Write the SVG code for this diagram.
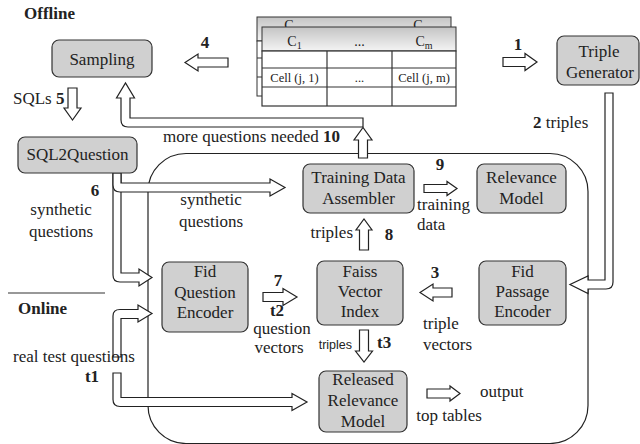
<svg xmlns="http://www.w3.org/2000/svg" width="640" height="444" viewBox="0 0 640 444">
<defs>
<linearGradient id="hdr" x1="0" y1="0" x2="0" y2="1">
<stop offset="0" stop-color="#c4c4c4"/>
<stop offset="1" stop-color="#f4f4f4"/>
</linearGradient>
<clipPath id="backclip"><rect x="250" y="10" width="210" height="17"/></clipPath>
</defs>
<style>
.t{font-family:"Liberation Serif","DejaVu Serif","Times New Roman",serif;font-size:17px;fill:#222}
.b{font-weight:bold}
.m{text-anchor:middle}
.e{text-anchor:end}
.s{font-family:"Liberation Sans","DejaVu Sans",Arial,sans-serif;font-size:12.5px;fill:#222}
.tc{font-family:"Liberation Serif","DejaVu Serif","Times New Roman",serif;font-size:12.5px;fill:#222;text-anchor:middle}
.th{font-family:"Liberation Serif","DejaVu Serif","Times New Roman",serif;font-size:14px;fill:#222;text-anchor:middle}
.node{fill:#d0d0d0;stroke:#333;stroke-width:1.2}
.ar{fill:#fff;stroke:#222;stroke-width:1.2;stroke-linejoin:miter}
.ln{stroke:#333;stroke-width:1.2;fill:none}
</style>
<rect width="640" height="444" fill="#fff"/>

<!-- online region -->
<rect x="148" y="153.5" width="440" height="290" rx="38" ry="38" fill="none" stroke="#222" stroke-width="1.2"/>
<line x1="8" y1="293" x2="105" y2="293" class="ln"/>

<text class="t b" x="24" y="19">Offline</text>
<text class="t b" x="18" y="314">Online</text>

<!-- table -->
<g id="table">
<rect x="257" y="17" width="194" height="24" fill="url(#hdr)" stroke="#333" stroke-width="1"/>
<rect x="257" y="41" width="194" height="55" fill="#fff" stroke="#333" stroke-width="1"/>
<line x1="257" y1="58" x2="451" y2="58" class="ln"/>
<line x1="257" y1="77" x2="451" y2="77" class="ln"/>
<g clip-path="url(#backclip)">
<text class="th" x="289" y="29.5">C</text>
<text class="th" x="418" y="29.5">C</text>
</g>
<rect x="262" y="27" width="194" height="24" fill="url(#hdr)" stroke="#333" stroke-width="1"/>
<rect x="262" y="51" width="194" height="55" fill="#fff" stroke="#333" stroke-width="1.2"/>
<line x1="262" y1="68" x2="456" y2="68" class="ln"/>
<line x1="262" y1="87" x2="456" y2="87" class="ln"/>
<line x1="327" y1="51" x2="327" y2="106" class="ln"/>
<line x1="392" y1="51" x2="392" y2="106" class="ln"/>
<text class="th" x="294.5" y="45.5">C<tspan font-size="10" dy="3">1</tspan></text>
<text class="th" x="359.5" y="45.5">...</text>
<text class="th" x="424" y="45.5">C<tspan font-size="10" dy="3">m</tspan></text>
<text class="tc" x="294.5" y="82">Cell (j, 1)</text>
<text class="tc" x="359.5" y="82">...</text>
<text class="tc" x="424" y="82">Cell (j, m)</text>
</g>

<!-- connectors -->
<g id="connectors">
<path class="ar" d="M228,58 L198,58 L198,54 L185,62.5 L198,71 L198,67 L228,67 Z"/>
<path class="ar" d="M503,57.5 L525,57.5 L525,53.5 L537,62 L525,70.5 L525,66.5 L503,66.5 Z"/>
<path class="ar" d="M68,88 L77,88 L77,108 L81,108 L72.5,120 L64,108 L68,108 Z"/>
<path class="ar" d="M363,118 L130,118 L130,98 L134.5,98 L125.5,83 L116.5,98 L121,98 L121,120 Q121,127 128,127 L363,127 Z"/>
<path class="ar" d="M358.5,158 L358.5,140 L354,140 L363,127.5 L372,140 L367.5,140 L367.5,158 Z"/>
<path class="ar" d="M121,173 L121,273 L139,273 L139,269 L152,277.5 L139,286 L139,282 L120,282 Q113,282 113,275 L113,173 Z"/>
<path class="ar" d="M121,173 L121,183 L270,183 L270,179 L285,187.5 L270,196 L270,192 L120,192 Q113,192 113,185 L113,173 Z"/>
<path class="ar" d="M359.5,250 L359.5,230 L356,230 L364,219 L372,230 L368.5,230 L368.5,250 Z"/>
<path class="ar" d="M424,184.5 L447,184.5 L447,181.5 L457,188.5 L447,195.5 L447,192.5 L424,192.5 Z"/>
<path class="ar" d="M605,93 L613,93 L613,282 Q613,289 606,289 L588,289 L588,293.5 L570,284.5 L588,276 L588,280 L605,280 Z"/>
<path class="ar" d="M452,288 L433,288 L433,284 L420,292.5 L433,301 L433,297 L452,297 Z"/>
<path class="ar" d="M263,292.5 L283,292.5 L283,288.5 L297,297 L283,305.5 L283,301.5 L263,301.5 Z"/>
<path class="ar" d="M359.5,330 L368.5,330 L368.5,351 L372.5,351 L364,362 L355.5,351 L359.5,351 Z"/>
<path class="ar" d="M113,357 L113,316 Q113,309.5 120,309.5 L138,309.5 L138,305 L152,313.5 L138,322 L138,318.5 L121,318.5 L121,357 Z"/>
<path class="ar" d="M113,373 L121,373 L121,397.5 L292,397.5 L292,393.5 L307,402 L292,410.5 L292,406.5 L120,406.5 Q113,406.5 113,399.5 Z"/>
<path class="ar" d="M427,389 L450,389 L450,386 L460,393.5 L450,401 L450,398 L427,398 Z"/>

<text class="t b m" x="205" y="48">4</text>
<text class="t b m" x="518" y="50">1</text>
<text class="t" x="13" y="104">SQLs <tspan class="b">5</tspan></text>
<text class="t" x="533" y="128"><tspan class="b">2</tspan>  triples</text>
<text class="t" x="163" y="142">more questions needed <tspan class="b">10</tspan></text>
<text class="t b m" x="95" y="196">6</text>
<text class="t m" x="61" y="215">synthetic</text>
<text class="t m" x="61" y="237">questions</text>
<text class="t m" x="211" y="205">synthetic</text>
<text class="t m" x="211" y="227">questions</text>
<text class="t b m" x="440" y="170">9</text>
<text class="t" x="417" y="210">training</text>
<text class="t" x="417" y="230">data</text>
<text class="t e" x="353" y="238">triples</text>
<text class="t b m" x="389" y="240">8</text>
<text class="t b m" x="278" y="286">7</text>
<text class="t b m" x="277" y="316">t2</text>
<text class="t m" x="282" y="334">question</text>
<text class="t m" x="279" y="353">vectors</text>
<text class="t b m" x="435" y="278">3</text>
<text class="t" x="423" y="329">triple</text>
<text class="t" x="423" y="350">vectors</text>
<text class="s e" x="352" y="349">triples</text>
<text class="t b" x="377" y="348">t3</text>
<text class="t" x="13" y="362">real test questions</text>
<text class="t b m" x="92" y="382">t1</text>
<text class="t" x="480" y="397">output</text>
<text class="t e" x="482" y="421">top tables</text>
</g>

<!-- nodes -->
<g id="sampling">
<rect class="node" x="52" y="40" width="100" height="37" rx="7"/>
<text class="t m" x="102" y="65">Sampling</text>
</g>
<g id="triple-generator">
<rect class="node" x="557" y="36" width="82" height="49" rx="7"/>
<text class="t m" x="599" y="57">Triple</text>
<text class="t m" x="600" y="78">Generator</text>
</g>
<g id="sql2question">
<rect class="node" x="18" y="137" width="119" height="36" rx="7"/>
<text class="t m" x="77.5" y="160">SQL2Question</text>
</g>
<g id="training-data-assembler">
<rect class="node" x="303" y="164" width="111" height="49" rx="7"/>
<text class="t m" x="358.5" y="183">Training Data</text>
<text class="t m" x="358.5" y="204">Assembler</text>
</g>
<g id="relevance-model">
<rect class="node" x="477" y="164" width="89" height="49" rx="7"/>
<text class="t m" x="521.5" y="183">Relevance</text>
<text class="t m" x="521.5" y="204">Model</text>
</g>
<g id="fid-question-encoder">
<rect class="node" x="162" y="262" width="86" height="70" rx="7"/>
<text class="t m" x="205" y="277">Fid</text>
<text class="t m" x="205" y="298">Question</text>
<text class="t m" x="205" y="318">Encoder</text>
</g>
<g id="faiss-vector-index">
<rect class="node" x="317" y="261" width="86" height="64" rx="7"/>
<text class="t m" x="360" y="277">Faiss</text>
<text class="t m" x="360" y="297">Vector</text>
<text class="t m" x="360" y="317">Index</text>
</g>
<g id="fid-passage-encoder">
<rect class="node" x="479" y="261" width="87" height="64" rx="7"/>
<text class="t m" x="522.5" y="277">Fid</text>
<text class="t m" x="522.5" y="297">Passage</text>
<text class="t m" x="522.5" y="317">Encoder</text>
</g>
<g id="released-relevance-model">
<rect class="node" x="319" y="371" width="88" height="61" rx="7"/>
<text class="t m" x="363" y="385">Released</text>
<text class="t m" x="363" y="406">Relevance</text>
<text class="t m" x="363" y="427">Model</text>
</g>
</svg>
